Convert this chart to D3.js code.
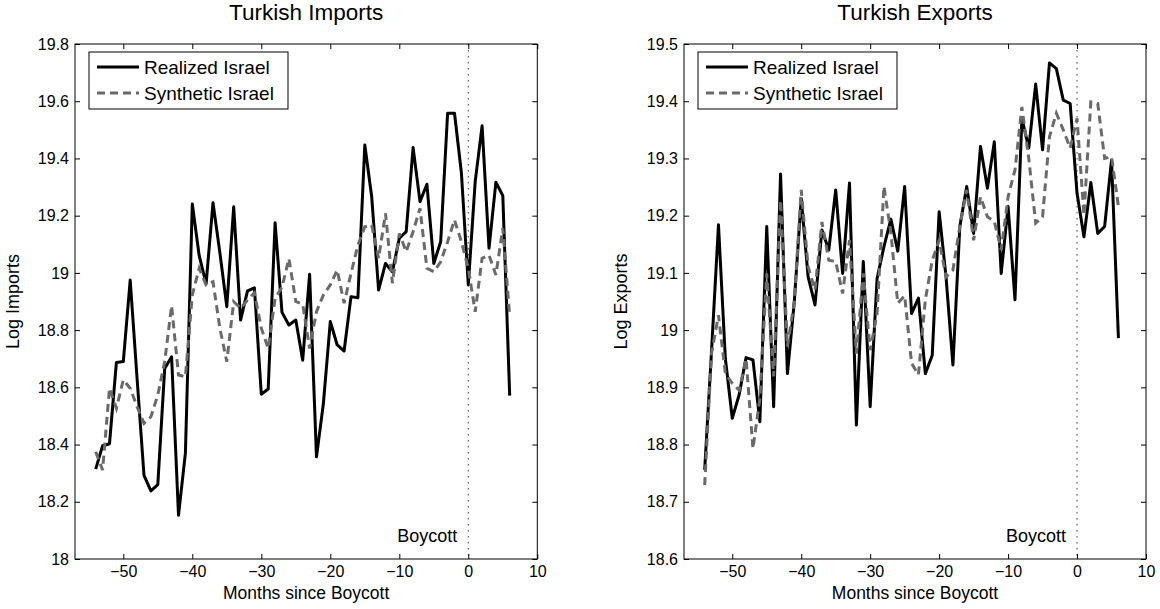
<!DOCTYPE html>
<html>
<head>
<meta charset="utf-8">
<script src="https://cdn.jsdelivr.net/npm/d3@7"></script>
<style>
  body { margin: 0; background: #fff; }
  svg text { font-family: "Liberation Sans", Arial, Helvetica, sans-serif; fill: #000; }
</style>
</head>
<body>
<script>
// months relative to the boycott (-54 .. 6)
var months = d3.range(-54, 7);

var importsRealized = [
    18.314, 18.396, 18.403, 18.687, 18.690, 18.975, 18.630, 18.292, 18.238, 18.260,
    18.666, 18.707, 18.153, 18.370, 19.241, 19.060, 18.962, 19.245, 19.070, 18.882,
    19.231, 18.835, 18.937, 18.948, 18.576, 18.594, 19.175, 18.862, 18.818, 18.835,
    18.695, 18.995, 18.357, 18.544, 18.830, 18.748, 18.727, 18.917, 18.913, 19.447,
    19.266, 18.940, 19.033, 19.004, 19.121, 19.144, 19.438, 19.249, 19.310, 19.033,
    19.109, 19.558, 19.558, 19.350, 18.958, 19.319, 19.514, 19.086, 19.317, 19.270,
    18.571
];
var importsSynthetic = [
    18.375, 18.311, 18.597, 18.527, 18.626, 18.597, 18.532, 18.474, 18.497, 18.573,
    18.690, 18.885, 18.643, 18.637, 18.923, 19.016, 18.958, 18.969, 18.806, 18.690,
    18.899, 18.876, 18.905, 18.930, 18.807, 18.736, 18.911, 18.950, 19.050, 18.900,
    18.890, 18.736, 18.864, 18.923, 18.958, 19.010, 18.894, 18.998, 19.097, 19.161,
    19.167, 19.051, 19.208, 18.964, 19.138, 19.074, 19.144, 19.226, 19.016, 19.004,
    19.039, 19.109, 19.185, 19.109, 19.016, 18.864, 19.051, 19.062, 18.993, 19.156,
    18.847
];
var exportsRealized = [
    18.756, 18.965, 19.184, 18.950, 18.846, 18.887, 18.952, 18.948, 18.840, 19.181,
    18.866, 19.273, 18.924, 19.050, 19.230, 19.093, 19.044, 19.175, 19.140, 19.245,
    19.099, 19.257, 18.834, 19.120, 18.866, 19.090, 19.146, 19.194, 19.138, 19.251,
    19.029, 19.056, 18.924, 18.956, 19.207, 19.093, 18.939, 19.181, 19.251, 19.169,
    19.321, 19.248, 19.329, 19.099, 19.216, 19.053, 19.370, 19.318, 19.430, 19.315,
    19.467, 19.457, 19.402, 19.396, 19.239, 19.163, 19.258, 19.169, 19.181, 19.297,
    18.986
];
var exportsSynthetic = [
    18.729, 18.960, 19.026, 18.924, 18.907, 18.895, 18.950, 18.793, 18.880, 19.099,
    18.919, 19.227, 18.971, 19.050, 19.245, 19.111, 19.070, 19.189, 19.122, 19.120,
    19.064, 19.157, 18.959, 19.099, 18.965, 19.029, 19.251, 19.170, 19.047, 19.060,
    18.942, 18.922, 19.053, 19.122, 19.157, 19.093, 19.105, 19.181, 19.245, 19.157,
    19.233, 19.198, 19.190, 19.140, 19.233, 19.280, 19.390, 19.300, 19.187, 19.198,
    19.338, 19.379, 19.350, 19.318, 19.370, 19.201, 19.399, 19.396, 19.300, 19.303,
    19.216
];

var xTicks = [-50, -40, -30, -20, -10, 0, 10];
var importsTicks = [18, 18.2, 18.4, 18.6, 18.8, 19, 19.2, 19.4, 19.6, 19.8];
var exportsTicks = [18.6, 18.7, 18.8, 18.9, 19, 19.1, 19.2, 19.3, 19.4, 19.5];
var seriesNames = ["Realized Israel", "Synthetic Israel"];

var width = 1160, height = 609;
var svg = d3.select("body").append("svg")
    .attr("width", width)
    .attr("height", height);

drawPanel({
    left: 75, right: 537.3, top: 44, bottom: 559,
    title: "Turkish Imports", ylabel: "Log Imports", ylabelX: 19,
    yDomain: [18, 19.8], yTicks: importsTicks,
    realized: importsRealized, synthetic: importsSynthetic
});
drawPanel({
    left: 684, right: 1146, top: 44, bottom: 559,
    title: "Turkish Exports", ylabel: "Log Exports", ylabelX: 627,
    yDomain: [18.6, 19.5], yTicks: exportsTicks,
    realized: exportsRealized, synthetic: exportsSynthetic
});

function drawPanel(p) {
    var x = d3.scaleLinear().domain([-57, 10]).range([p.left, p.right]);
    var y = d3.scaleLinear().domain(p.yDomain).range([p.bottom, p.top]);
    var g = svg.append("g");
    var tickLen = 5;

    // boycott marker
    g.append("line")
        .attr("x1", x(0)).attr("x2", x(0))
        .attr("y1", p.top).attr("y2", p.bottom)
        .attr("stroke", "#444")
        .attr("stroke-width", 1)
        .attr("stroke-dasharray", "1.5,4.5");

    g.append("text")
        .attr("x", x(0) - 11)
        .attr("y", p.bottom - 17)
        .attr("text-anchor", "end")
        .style("font-size", "18px")
        .text("Boycott");

    var line = function (vals) {
        return d3.line()
            .x(function (d, i) { return x(months[i]); })
            .y(function (d) { return y(d); })(vals);
    };

    g.append("path")
        .attr("d", line(p.realized))
        .attr("fill", "none")
        .attr("stroke", "#000")
        .attr("stroke-width", 3)
        .attr("stroke-linejoin", "round");

    g.append("path")
        .attr("d", line(p.synthetic))
        .attr("fill", "none")
        .attr("stroke", "#6a6a6a")
        .attr("stroke-width", 3)
        .attr("stroke-dasharray", "8,5");

    // box + inward ticks on all four sides (matlab style)
    g.append("rect")
        .attr("x", p.left).attr("y", p.top)
        .attr("width", p.right - p.left).attr("height", p.bottom - p.top)
        .attr("fill", "none").attr("stroke", "#000").attr("stroke-width", 1);

    var bottomAxis = d3.axisBottom(x).tickValues(xTicks).tickSizeInner(-tickLen).tickSizeOuter(0)
        .tickFormat(d3.format("d")).tickPadding(7);
    var topAxis = d3.axisTop(x).tickValues(xTicks).tickSizeInner(-tickLen).tickSizeOuter(0)
        .tickFormat("");
    var leftAxis = d3.axisLeft(y).tickValues(p.yTicks).tickSizeInner(-tickLen).tickSizeOuter(0)
        .tickFormat(function (d) { return +d.toFixed(1) + ""; }).tickPadding(6);
    var rightAxis = d3.axisRight(y).tickValues(p.yTicks).tickSizeInner(-tickLen).tickSizeOuter(0)
        .tickFormat("");

    [
        [bottomAxis, "translate(0," + p.bottom + ")"],
        [topAxis, "translate(0," + p.top + ")"],
        [leftAxis, "translate(" + p.left + ",0)"],
        [rightAxis, "translate(" + p.right + ",0)"]
    ].forEach(function (a) {
        var ax = g.append("g").attr("transform", a[1]).call(a[0]);
        ax.select(".domain").remove();
        ax.selectAll("line").attr("stroke", "#000");
        ax.selectAll("text")
            .style("font-family", "'Liberation Sans', Arial, sans-serif")
            .style("font-size", "16px")
            .attr("fill", "#000");
    });

    // title and axis labels
    g.append("text")
        .attr("x", (p.left + p.right) / 2)
        .attr("y", 20)
        .attr("text-anchor", "middle")
        .style("font-size", "22.5px")
        .text(p.title);

    g.append("text")
        .attr("x", (p.left + p.right) / 2)
        .attr("y", 599)
        .attr("text-anchor", "middle")
        .style("font-size", "17.5px")
        .text("Months since Boycott");

    g.append("text")
        .attr("transform", "translate(" + p.ylabelX + "," + ((p.top + p.bottom) / 2) + ") rotate(-90)")
        .attr("text-anchor", "middle")
        .style("font-size", "18px")
        .text(p.ylabel);

    // legend
    var lg = g.append("g").attr("transform", "translate(" + (p.left + 14) + "," + (p.top + 8) + ")");
    lg.append("rect")
        .attr("width", 199).attr("height", 57)
        .attr("fill", "#fff").attr("stroke", "#000").attr("stroke-width", 1);
    seriesNames.forEach(function (name, i) {
        var yy = 15 + i * 26;
        lg.append("line")
            .attr("x1", 8).attr("x2", 50)
            .attr("y1", yy).attr("y2", yy)
            .attr("stroke", i === 0 ? "#000" : "#6a6a6a")
            .attr("stroke-width", 3)
            .attr("stroke-dasharray", i === 0 ? null : "8,5");
        lg.append("text")
            .attr("x", 55).attr("y", yy + 7)
            .style("font-size", "19px")
            .text(name);
    });
}
</script>
</body>
</html>
